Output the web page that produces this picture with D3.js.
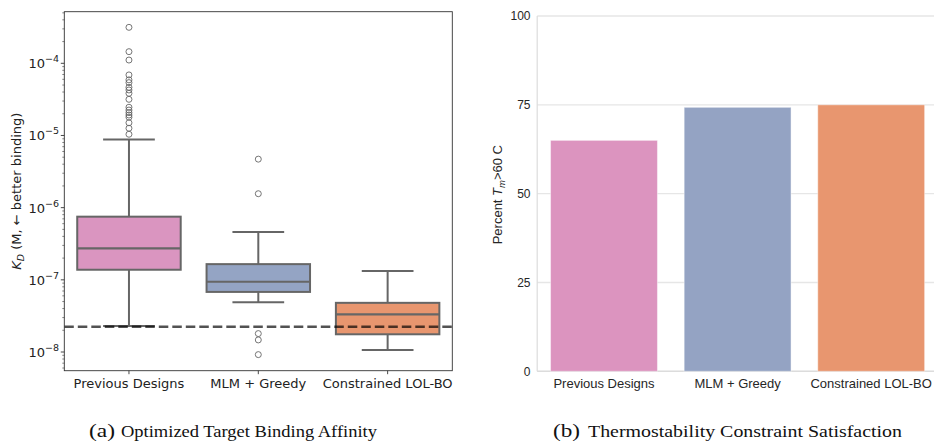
<!DOCTYPE html>
<html>
<head>
<meta charset="utf-8">
<script src="https://cdn.jsdelivr.net/npm/d3@7"></script>
<style>
  html, body { margin: 0; padding: 0; background: #fff; }
  svg { display: block; }
</style>
</head>
<body>
<svg id="chart" width="934" height="442"></svg>
<script>
// ---------------- DATA ----------------
const categories = ["Previous Designs", "MLM + Greedy", "Constrained LOL-BO"];

// Panel (a): box statistics of K_D (M)
const kdQ1 = [1.38e-7, 6.8e-8, 1.76e-8];
const kdMedian = [2.73e-7, 9.4e-8, 3.33e-8];
const kdQ3 = [7.5e-7, 1.65e-7, 4.8e-8];
const kdWhiskerLow = [2.3e-8, 4.9e-8, 1.07e-8];
const kdWhiskerHigh = [8.8e-6, 4.6e-7, 1.33e-7];
const kdOutliersPrevious = [3.15e-4, 1.45e-4, 1.11e-4, 6.9e-5, 5.9e-5, 5.4e-5, 4.65e-5, 4.27e-5,
  3.84e-5, 3.17e-5, 2.46e-5, 2.25e-5, 2.07e-5, 1.92e-5, 1.79e-5, 1.50e-5, 1.26e-5, 1.04e-5];
const kdOutliersMLM = [4.7e-6, 1.56e-6, 1.8e-8, 1.47e-8, 9.2e-9];
const kdOutliersLOLBO = [];
const kdReference = 2.24e-8;
const kdTickExponents = [-8, -7, -6, -5, -4];

// Panel (b): percent with Tm > 60 C
const percentTm = [65.0, 74.3, 75.0];
const percentTicks = [0, 25, 50, 75, 100];

const boxColors = ["#da95c0", "#94a4c4", "#e8966f"];
const barColors = ["#dc94bf", "#94a3c3", "#e8966f"];

const captionA = ["(a)", "Optimized Target Binding Affinity"];
const captionB = ["(b)", "Thermostability Constraint Satisfaction"];

// ---------------- DRAW ----------------
const svg = d3.select("#chart");
svg.append("rect").attr("width", 934).attr("height", 442).attr("fill", "#fff");

// ===== Panel (a) =====
const A = { left: 64.3, right: 452.3, top: 11.7, bottom: 370.7 };
const xA = d3.scaleBand().domain(categories).range([A.left, A.right]).paddingInner(0.2).paddingOuter(0.1);
const yA = d3.scaleLog().domain([Math.pow(10, -8.259), Math.pow(10, -3.285)]).range([A.bottom, A.top]);
const fontA = "'DejaVu Sans', sans-serif";
const gA = svg.append("g");

const boxes = categories.map((c, i) => ({
  cat: c, q1: kdQ1[i], med: kdMedian[i], q3: kdQ3[i],
  lo: kdWhiskerLow[i], hi: kdWhiskerHigh[i], color: boxColors[i],
  out: [kdOutliersPrevious, kdOutliersMLM, kdOutliersLOLBO][i]
}));
const edge = "#666666";
const bw = xA.bandwidth();

boxes.forEach(b => {
  const cx = xA(b.cat) + bw / 2;
  gA.append("line").attr("x1", cx).attr("x2", cx).attr("y1", yA(b.q3)).attr("y2", yA(b.hi))
    .attr("stroke", edge).attr("stroke-width", 2);
  gA.append("line").attr("x1", cx).attr("x2", cx).attr("y1", yA(b.q1)).attr("y2", yA(b.lo))
    .attr("stroke", edge).attr("stroke-width", 2);
  [b.hi, b.lo].forEach(v => {
    gA.append("line").attr("x1", cx - bw / 4).attr("x2", cx + bw / 4).attr("y1", yA(v)).attr("y2", yA(v))
      .attr("stroke", edge).attr("stroke-width", 2);
  });
  gA.append("rect").attr("x", xA(b.cat)).attr("width", bw)
    .attr("y", yA(b.q3)).attr("height", yA(b.q1) - yA(b.q3))
    .attr("fill", b.color).attr("stroke", edge).attr("stroke-width", 2);
  gA.append("line").attr("x1", xA(b.cat)).attr("x2", xA(b.cat) + bw).attr("y1", yA(b.med)).attr("y2", yA(b.med))
    .attr("stroke", edge).attr("stroke-width", 2.2);
  gA.selectAll(null).data(b.out).enter().append("circle")
    .attr("cx", cx).attr("cy", d => yA(d)).attr("r", 3)
    .attr("fill", "none").attr("stroke", edge).attr("stroke-width", 0.9);
});

// reference dashed line
gA.append("line").attr("x1", A.left).attr("x2", A.right).attr("y1", yA(kdReference)).attr("y2", yA(kdReference))
  .attr("stroke", "#000").attr("stroke-opacity", 0.68).attr("stroke-width", 2.6)
  .attr("stroke-dasharray", "9.5,4");

// frame
gA.append("rect").attr("x", A.left).attr("y", A.top).attr("width", A.right - A.left).attr("height", A.bottom - A.top)
  .attr("fill", "none").attr("stroke", "#333").attr("stroke-width", 0.9);

// y ticks: major + minor
const [lo, hi] = yA.domain();
for (let e = -9; e <= -3; e++) {
  for (let m = 1; m <= 9; m++) {
    const v = m * Math.pow(10, e);
    if (v < lo || v > hi) continue;
    const len = m === 1 ? 3.5 : 2;
    gA.append("line").attr("x1", A.left - len).attr("x2", A.left).attr("y1", yA(v)).attr("y2", yA(v))
      .attr("stroke", "#333").attr("stroke-width", m === 1 ? 0.9 : 0.6);
  }
}
kdTickExponents.forEach(e => {
  const t = gA.append("text").attr("x", 59).attr("y", yA(Math.pow(10, e)) + 5)
    .attr("text-anchor", "end").attr("font-family", fontA).attr("font-size", 13).attr("fill", "#222");
  t.append("tspan").text("10");
  t.append("tspan").attr("dy", -6).attr("font-size", 9.5).text("\u2212" + Math.abs(e));
});
categories.forEach(c => {
  const cx = xA(c) + bw / 2;
  gA.append("line").attr("x1", cx).attr("x2", cx).attr("y1", A.bottom).attr("y2", A.bottom + 3.5)
    .attr("stroke", "#333").attr("stroke-width", 0.9);
  gA.append("text").attr("x", cx).attr("y", 387.5).attr("text-anchor", "middle")
    .attr("font-family", fontA).attr("font-size", 13).attr("fill", "#222").text(c);
});
const ylA = gA.append("text").attr("transform", `translate(21,${(A.top + A.bottom) / 2}) rotate(-90)`)
  .attr("text-anchor", "middle").attr("font-family", fontA).attr("font-size", 13).attr("fill", "#222");
ylA.append("tspan").attr("font-style", "italic").text("K");
ylA.append("tspan").attr("font-style", "italic").attr("font-size", 9.5).attr("dy", 3).text("D");
ylA.append("tspan").attr("dy", -3).text(" (M, \u2190 better binding)");

// ===== Panel (b) =====
const B = { left: 537.2, right: 938, top: 16, bottom: 371.3 };
const xB = d3.scaleBand().domain(categories).range([B.left, B.right]).paddingInner(0.2).paddingOuter(0.1);
const yB = d3.scaleLinear().domain([0, 100]).range([B.bottom, B.top]);
const fontB = "'Liberation Sans', Arial, sans-serif";
const gB = svg.append("g");

percentTicks.forEach(v => {
  gB.append("line").attr("x1", B.left).attr("x2", B.right).attr("y1", yB(v)).attr("y2", yB(v))
    .attr("stroke", "#e6e6e6").attr("stroke-width", 1.4);
});
gB.append("line").attr("x1", B.left).attr("x2", B.left).attr("y1", B.top).attr("y2", B.bottom)
  .attr("stroke", "#dcdcdc").attr("stroke-width", 1.2);
gB.append("line").attr("x1", B.left).attr("x2", B.right).attr("y1", B.bottom).attr("y2", B.bottom)
  .attr("stroke", "#dcdcdc").attr("stroke-width", 1.2);

gB.selectAll(".bar").data(categories).enter().append("rect")
  .attr("x", d => xB(d)).attr("width", xB.bandwidth())
  .attr("y", (d, i) => yB(percentTm[i])).attr("height", (d, i) => yB(0) - yB(percentTm[i]))
  .attr("fill", (d, i) => barColors[i]).attr("stroke", "#fff").attr("stroke-opacity", 0.45).attr("stroke-width", 1);

percentTicks.forEach(v => {
  gB.append("text").attr("x", 530.5).attr("y", yB(v) + 4.3).attr("text-anchor", "end")
    .attr("font-family", fontB).attr("font-size", 12).attr("fill", "#262626").text(v);
});
categories.forEach(c => {
  gB.append("text").attr("x", xB(c) + xB.bandwidth() / 2).attr("y", 388).attr("text-anchor", "middle")
    .attr("font-family", fontB).attr("font-size", 13).attr("fill", "#262626").text(c);
});
const ylB = gB.append("text").attr("transform", `translate(502,${(B.top + B.bottom) / 2 + 1}) rotate(-90)`)
  .attr("text-anchor", "middle").attr("font-family", fontB).attr("font-size", 13).attr("fill", "#262626");
ylB.append("tspan").text("Percent ");
ylB.append("tspan").attr("font-style", "italic").text("T");
ylB.append("tspan").attr("font-style", "italic").attr("font-size", 9.5).attr("dy", 3).text("m");
ylB.append("tspan").attr("dy", -3).text(">60 C");

// ===== Captions =====
const fontC = "'Liberation Serif', 'Times New Roman', serif";
function caption(parts, x0, w0, x1, w1) {
  svg.append("text").attr("x", x0).attr("y", 437).attr("font-family", fontC).attr("font-size", 19)
    .attr("fill", "#111").attr("textLength", w0).attr("lengthAdjust", "spacingAndGlyphs").text(parts[0]);
  svg.append("text").attr("x", x1).attr("y", 437).attr("font-family", fontC).attr("font-size", 17.5)
    .attr("fill", "#111").attr("textLength", w1).attr("lengthAdjust", "spacingAndGlyphs").text(parts[1]);
}
caption(captionA, 89, 26, 121, 256);
caption(captionB, 553, 27, 588, 314);
</script>
</body>
</html>
